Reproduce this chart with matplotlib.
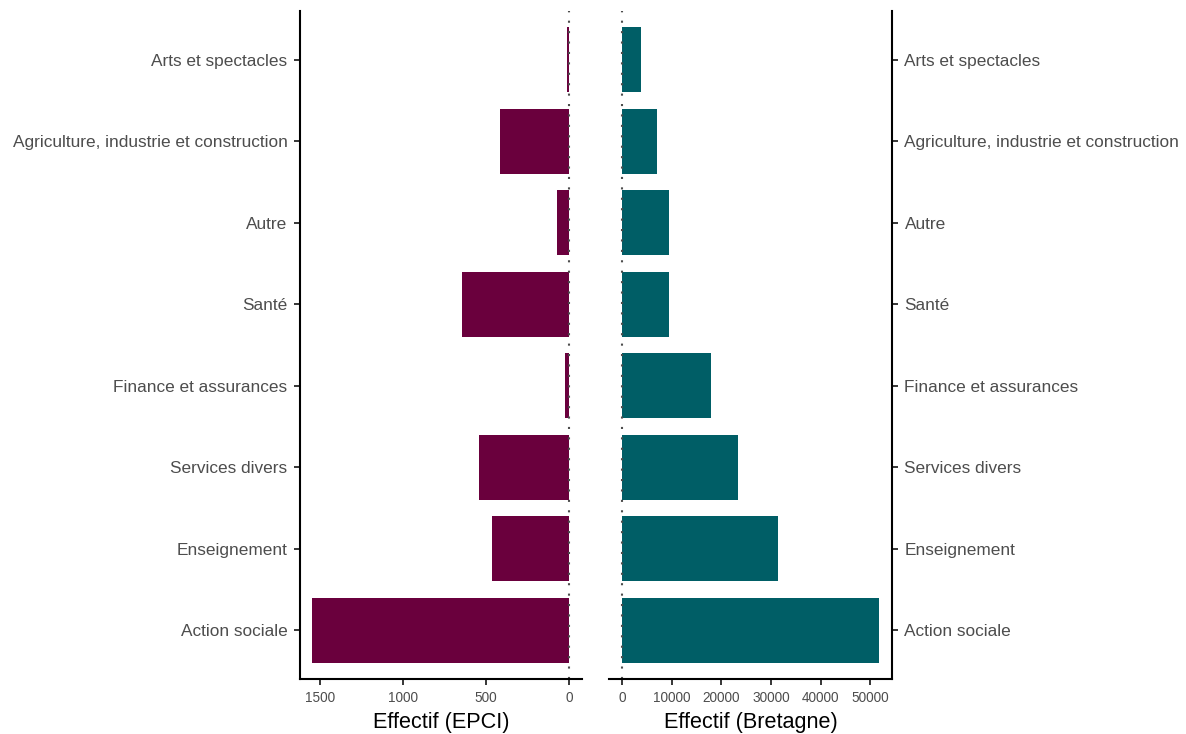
import matplotlib
matplotlib.use("Agg")
import matplotlib.pyplot as plt
import numpy as np

categories = ["Action sociale", "Enseignement", "Services divers", "Finance et assurances",
              "Santé", "Autre", "Agriculture, industrie et construction", "Arts et spectacles"]
epci = [1548, 464, 542, 24, 645, 72, 416, 12]
bretagne = [51800, 31500, 23300, 18000, 9400, 9400, 7000, 3800]

left_color = "#6A003D"
right_color = "#005E66"
grey = "#4D4D4D"

plt.rcParams['font.family'] = ['Liberation Sans', 'DejaVu Sans']

fig = plt.figure(figsize=(11.86, 7.34), dpi=100)
W, H = 1186, 734
def ax_at(x0, x1, y0, y1):
    return fig.add_axes([x0 / W, (H - y1) / H, (x1 - x0) / W, (y1 - y0) / H])

axL = ax_at(300, 582, 11, 679)
axR = ax_at(609, 892, 11, 679)

y = np.arange(1, len(categories) + 1)

axL.barh(y, epci, height=0.8, color=left_color)
axL.set_xlim(1621, -78)
axL.axvline(0, color=grey, linestyle=(0, (1, 4)), linewidth=1.5)
axL.set_xticks([1500, 1000, 500, 0])

axR.barh(y, bretagne, height=0.8, color=right_color)
axR.set_xlim(-2590, 54390)
axR.axvline(0, color=grey, linestyle=(0, (1, 4)), linewidth=1.5)
axR.set_xticks([0, 10000, 20000, 30000, 40000, 50000])

for ax in (axL, axR):
    ax.set_ylim(0.4, len(categories) + 0.6)
    ax.set_yticks(y)
    ax.set_yticklabels(categories)
    ax.tick_params(axis='both', colors='black', labelcolor=grey, length=4, width=1.1)
    ax.tick_params(axis='y', labelsize=12.4, pad=5)
    ax.tick_params(axis='x', labelsize=9.8, pad=5)
    for s in ax.spines.values():
        s.set_linewidth(1.5)
        s.set_color('black')
    ax.spines['top'].set_visible(False)

axL.spines['right'].set_visible(False)
axR.spines['left'].set_visible(False)
axR.yaxis.tick_right()
axR.yaxis.set_label_position('right')

axL.set_xlabel("Effectif (EPCI)", fontsize=15.6, labelpad=5)
axR.set_xlabel("Effectif (Bretagne)", fontsize=15.6, labelpad=5)

fig.savefig("out.png", dpi=100)
